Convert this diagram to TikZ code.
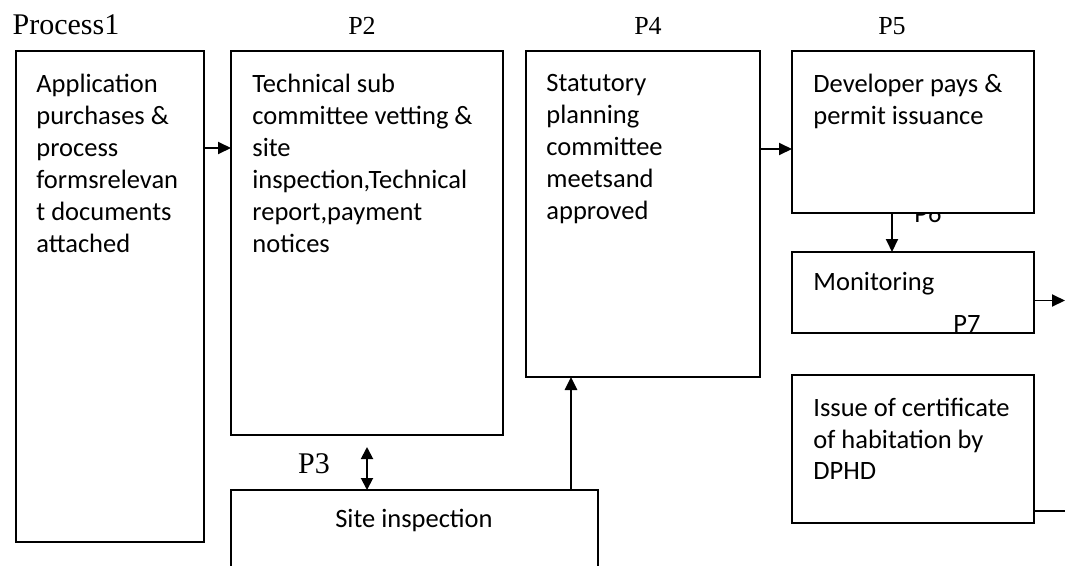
\documentclass[tikz,border=0pt]{standalone}
\usepackage{fontspec}
\setmainfont{Liberation Serif}
\newfontfamily\boxfont{Carlito}
\usetikzlibrary{arrows.meta}

\begin{document}
\begin{tikzpicture}[x=1pt,y=-1pt,thick,
        box/.style={draw,line width=1.5pt,anchor=north west,inner sep=0pt,outer sep=0pt,fill=white},
        txt/.style={anchor=north west,align=left,inner sep=0pt,font=\boxfont\fontsize{26.5}{32}\selectfont},
        lbl/.style={anchor=base,inner sep=0pt,font=\fontsize{26}{26}\selectfont},
        link/.style={-{Triangle[length=13pt,width=12pt]},line width=1.9pt}]
        \useasboundingbox (0,0) rectangle (1065,565);
        % labels over the boxes
        \node[lbl,font=\fontsize{30}{30}\selectfont] (p1) at (66,34) {Process1};
        \node[lbl] (p2) at (362,34) {P2};
        \node[lbl] (p4) at (648,34) {P4};
        \node[lbl] (p5) at (892,34) {P5};
        \node[lbl,font=\boxfont\fontsize{26.5}{26.5}\selectfont] (p6) at (928,222) {P6};
        % boxes
        \node[box,minimum width=188pt,minimum height=491pt] (app) at (16,51) {};
        \node[box,minimum width=272pt,minimum height=384pt] (tech) at (231,51) {};
        \node[box,minimum width=234pt,minimum height=326pt] (stat) at (526,51) {};
        \node[box,minimum width=242pt,minimum height=162pt] (dev) at (792,51) {};
        \node[box,minimum width=242pt,minimum height=81pt] (mon) at (792,252) {};
        \node[box,minimum width=242pt,minimum height=148pt] (iss) at (792,375) {};
        \node[box,minimum width=367pt,minimum height=130pt] (site) at (231,490) {};
        % texts
        \node[txt] (appt) at (36,74) {Application\\purchases \&\\process\\formsrelevan\\t documents\\attached};
        \node[txt] (techt) at (252,74) {Technical sub\\committee vetting \&\\site\\inspection,Technical\\report,payment\\notices};
        \node[txt] (statt) at (546,74) {Statutory\\planning\\committee\\meetsand\\approved};
        \node[txt] (devt) at (813,74) {Developer pays \&\\permit issuance};
        \node[txt,anchor=base west] (mont) at (813,290) {Monitoring};
        \node[txt,font=\boxfont\fontsize{26.5}{31.5}\selectfont] (isst) at (813,398) {Issue of certificate\\of habitation by\\DPHD};
        \node[txt,anchor=base] (sitet) at (414,527) {Site inspection};
        \node[lbl,font=\fontsize{30}{30}\selectfont] (p3) at (314,473) {P3};
        \begin{scope}
            \clip (940,290) rectangle (995,331);
            \node[lbl,font=\boxfont\fontsize{26.5}{26.5}\selectfont] (p7) at (967,332) {P7};
        \end{scope}
        % connectors
        \coordinate (monout) at ([xshift=31pt,yshift=-8pt]mon.east);
        \coordinate (issout) at ([xshift=31pt,yshift=12pt]iss.south east);
        \draw[link] ([yshift=-97pt]app.north east) -- ([yshift=-97pt]tech.north west);
        \draw[link] ([yshift=-98pt]stat.north east) -- ([yshift=-98pt]dev.north west);
        \draw[link] ([xshift=-21pt]dev.south) -- ([xshift=-21pt]mon.north);
        \draw[link] ([yshift=-8pt]mon.east) -- (monout);
        \draw[link,{Triangle[length=12pt,width=12pt]}-{Triangle[length=12pt,width=12pt]}] ([yshift=-12pt]tech.south) -- (tech.south |- site.north);
        \draw[link,line width=2.7pt] ([xshift=-72pt]stat.south |- site.north) -- ([xshift=-72pt]stat.south);
        \draw[line width=1.5pt] ([yshift=12pt]iss.south east) -- (issout);
    \end{tikzpicture}
\end{document}
